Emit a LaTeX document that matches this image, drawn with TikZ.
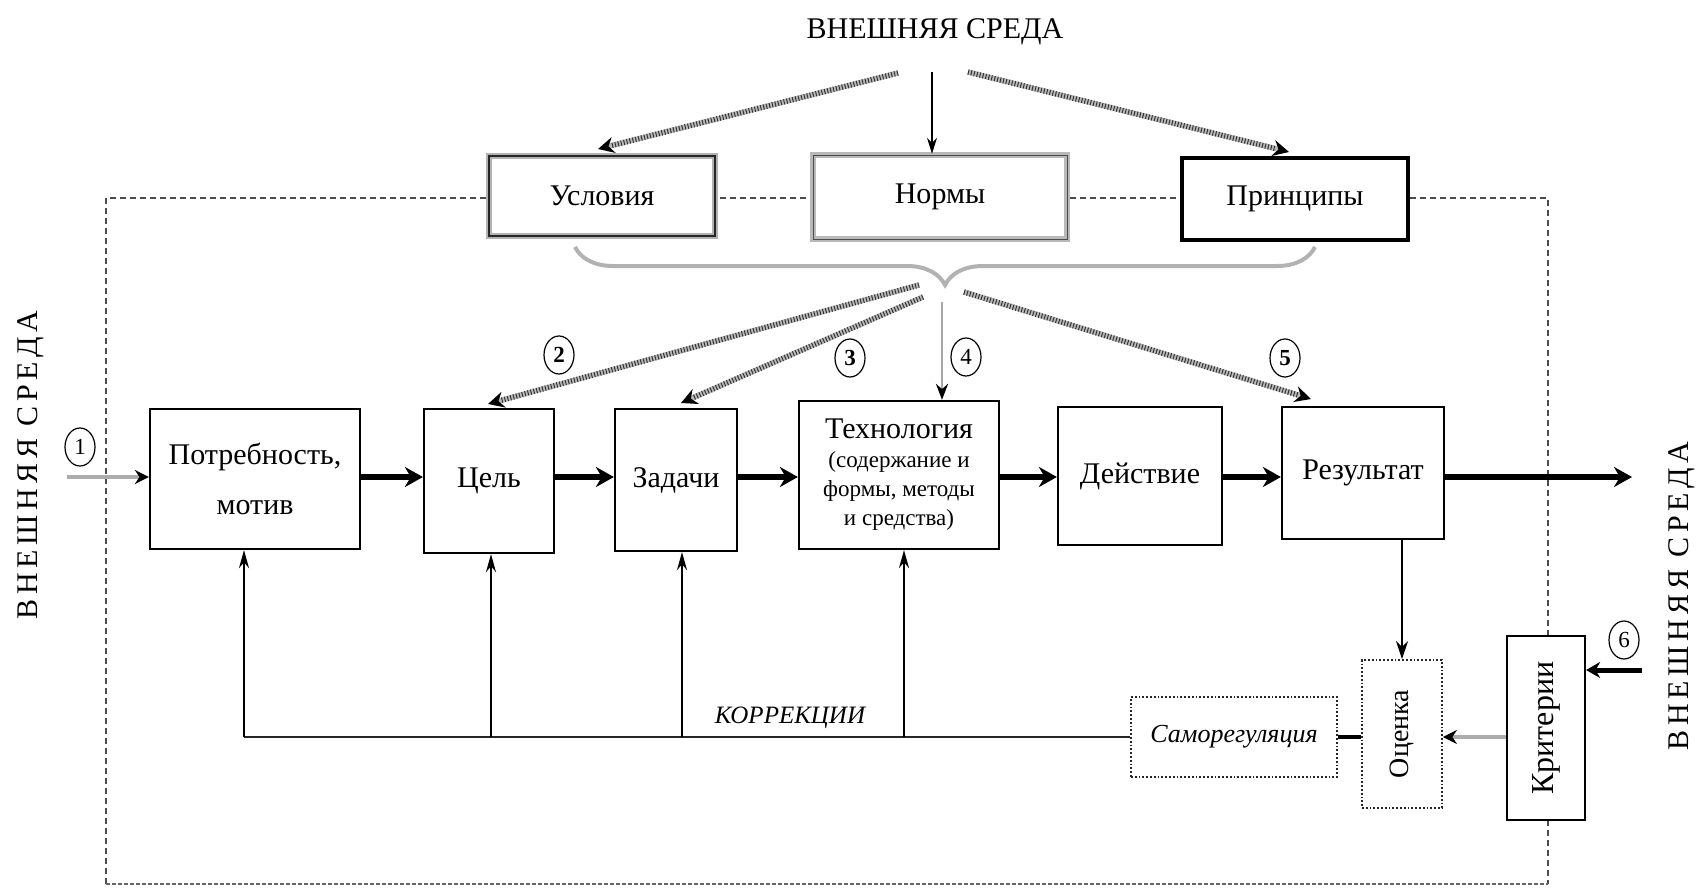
\documentclass[tikz,border=0pt]{standalone}
\usepackage{fontspec}
\setmainfont{Liberation Serif}
\newfontfamily\spacedfont[LetterSpace=16]{Liberation Serif}
\usetikzlibrary{arrows.meta,decorations.pathreplacing,shapes.geometric}
\newcommand\smallsz{\fontsize{11.5}{14.5}\selectfont}
\tikzset{
  mbox/.style={draw=black, line width=1.1pt, fill=white, inner sep=0pt, align=center, font=\fontsize{15}{25}\selectfont},
  topbox/.style={fill=white, inner sep=0pt, align=center, font=\fontsize{15}{18}\selectfont},
  dotbox/.style={draw=black!85, line width=0.9pt, densely dotted, fill=white, inner sep=0pt, align=center},
  num/.style={ellipse, draw=black, line width=0.6pt, inner sep=0pt, minimum width=15pt, minimum height=19pt, font=\fontsize{11.5}{11.5}\selectfont},
  bigarrow/.style={draw=black, line width=3pt, -{Stealth[length=9pt,width=10pt]}},
  hatch/.style={draw=gray!55, line width=2.7pt, -{Stealth[length=8pt,width=8pt,color=black]}, postaction={draw=black!80, line width=2.7pt, dash pattern=on 0.5pt off 1pt, -, shorten >=7pt}},
  grayarrow/.style={draw=gray!65, line width=1.8pt, -{Stealth[length=7pt,width=7pt,color=black]}},
  fbarrow/.style={draw=black, line width=1pt, -{Stealth[length=9pt,width=5pt]}},
  fbline/.style={draw=black!85, line width=1pt},
  frame/.style={draw=black!70, line width=0.6pt, dash pattern=on 3pt off 2pt},
  sidetext/.style={font=\fontsize{15}{15}\spacedfont, rotate=90, inner sep=0pt},
}
\begin{document}
\begin{tikzpicture}[x=0.5pt,y=-0.5pt]
\useasboundingbox (0,0) rectangle (1700,888);
% frame
\draw[frame] (106,884) -- (106,198) -- (1548,198) -- (1548,884);
\draw[draw=black!60, line width=1.2pt, dash pattern=on 2pt off 1pt] (106,884) -- (1548,884);

% titles
\node[font=\fontsize{15}{15}\selectfont, inner sep=0pt] (title) at (935,32) {ВНЕШНЯЯ СРЕДА};
\node[sidetext] (envL) at (31,465) {ВНЕШНЯЯ СРЕДА};
\node[sidetext] (envR) at (1682,596) {ВНЕШНЯЯ СРЕДА};

% top boxes
\node[topbox, draw=gray!60, double=black!85, double distance=0.6pt, line width=1pt, minimum width=113pt, minimum height=40pt] (usl) at (602,196) {Условия};
\node[topbox, draw=gray!55, double=black!70, double distance=0.5pt, line width=1.2pt, minimum width=127pt, minimum height=42pt] (norm) at (940,197) {Нормы};
\node[topbox, draw=black, line width=1.6pt, minimum width=113pt, minimum height=41pt] (princ) at (1295,199) {Принципы};

% arrows from the top
\coordinate (t1) at (898,73);
\coordinate (t2) at (932,72);
\coordinate (t3) at (968,72);
\coordinate (u1) at (598,149);
\coordinate (u3) at (1289,152);
\draw[hatch] (t1) -- (u1);
\draw[draw=black, line width=0.8pt, -{Stealth[length=8pt,width=5pt]}] (t2) -- (t2 |- norm.north);
\draw[hatch] (t3) -- (u3);

% brace
\draw[draw=gray!60, line width=2pt, decorate, decoration={brace, mirror, amplitude=19pt}] (575,247) -- (1315,247);

% main row
\node[mbox, minimum width=105pt, minimum height=70pt] (potr) at (255,479) {Потребность,\\мотив};
\node[mbox, minimum width=65pt, minimum height=72pt] (cel) at (489,481) {Цель};
\node[mbox, minimum width=61pt, minimum height=71pt] (zad) at (676,480) {Задачи};
\node[mbox, minimum width=100pt, minimum height=74pt, font=\fontsize{15}{14.5}\selectfont] (tech) at (899,475) {Технология\\\smallsz(содержание и\\\smallsz формы, методы\\\smallsz и средства)};
\node[mbox, minimum width=82pt, minimum height=69pt] (dey) at (1140,476) {Действие};
\node[mbox, minimum width=81pt, minimum height=66pt] (res) at (1363,473) {Результат};

% numbers
\node[num] (n1) at (80,447) {1};
\node[num, font=\fontsize{11.5}{11.5}\selectfont\bfseries] (n2) at (559,355) {2};
\node[num, font=\fontsize{11.5}{11.5}\selectfont\bfseries] (n3) at (850,358) {3};
\node[num] (n4) at (966,357) {4};
\node[num, font=\fontsize{11.5}{11.5}\selectfont\bfseries] (n5) at (1285,358) {5};
\node[num] (n6) at (1624,640) {6};

% arrows from brace
\coordinate (b1) at (919,285);
\coordinate (b2) at (923,297);
\coordinate (b3) at (942,302);
\coordinate (b4) at (964,292);
\coordinate (e1) at (488,404);
\coordinate (e2) at (681,403);
\coordinate (e4) at (1311,399);
\draw[hatch] (b1) -- (e1);
\draw[hatch] (b2) -- (e2);
\draw[draw=gray!70, line width=1.4pt, -{Stealth[length=8pt,width=6pt,color=black]}] (b3) -- (b3 |- tech.north);
\draw[hatch] (b4) -- (e4);

% main chain
\coordinate (my) at (0,477);
\coordinate (a1) at (67,477);
\coordinate (out) at (1632,477);
\draw[grayarrow] (a1) -- (potr.west |- a1);
\draw[bigarrow] (potr.east |- my) -- (cel.west |- my);
\draw[bigarrow] (cel.east |- my) -- (zad.west |- my);
\draw[bigarrow] (zad.east |- my) -- (tech.west |- my);
\draw[bigarrow] (tech.east |- my) -- (dey.west |- my);
\draw[bigarrow] (dey.east |- my) -- (res.west |- my);
\draw[bigarrow] (res.east |- my) -- (out);

% bottom
\node[dotbox, line width=1.1pt, minimum width=103pt, minimum height=40pt, font=\fontsize{13}{13}\selectfont\itshape] (samo) at (1234,737) {Саморегуляция};
\node[dotbox, minimum width=40pt, minimum height=74pt, font=\fontsize{14}{14}\selectfont] (ocenka) at (1402,734) {\rotatebox{90}{Оценка}};
\node[mbox, minimum width=39pt, minimum height=92pt, font=\fontsize{16}{16}\selectfont] (krit) at (1546,728) {\rotatebox{90}{Критерии}};

\coordinate (f1) at (244,737);
\coordinate (f2) at (491,737);
\coordinate (f3) at (682,737);
\coordinate (f4) at (904,737);
\draw[fbline] (samo.west) -- (f1);
\draw[fbarrow] (f1) -- (f1 |- potr.south);
\draw[fbarrow] (f2) -- (f2 |- cel.south);
\draw[fbarrow] (f3) -- (f3 |- zad.south);
\draw[fbarrow] (f4) -- (f4 |- tech.south);
\node[font=\fontsize{12.5}{12.5}\selectfont\itshape, inner sep=0pt] (korr) at (790,718) {КОРРЕКЦИИ};

\draw[draw=black, line width=1.6pt] (samo.east) -- (ocenka.west |- samo.east);
\draw[draw=black, line width=1.3pt, -{Stealth[length=9pt,width=6pt]}] (ocenka.north |- res.south) -- (ocenka.north);
\draw[grayarrow] (krit.west |- samo.east) -- (ocenka.east |- samo.east);
\coordinate (c6) at (1642,670);
\draw[draw=black, line width=2.5pt, -{Stealth[length=7pt,width=8pt]}] (c6) -- (krit.east |- c6);
\end{tikzpicture}
\end{document}
